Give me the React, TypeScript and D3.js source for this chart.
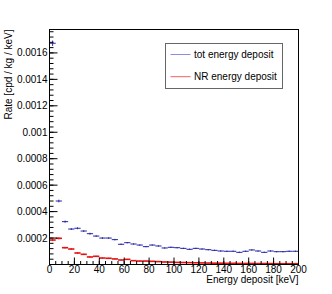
import React from "react";
import * as d3 from "d3";

const W = 332;
const H = 294;

// bin lower edges (keV), bin width 5 keV
const binLow = [0, 5, 10, 15, 20, 25, 30, 35, 40, 45, 50, 55, 60, 65, 70, 75, 80, 85, 90, 95,
  100, 105, 110, 115, 120, 125, 130, 135, 140, 145, 150, 155, 160, 165, 170, 175, 180, 185, 190, 195];
const binWidth = 5;

// rates in units of 1e-4 cpd/kg/keV
const totValues = [16.73, 4.80, 3.24, 2.68, 2.74, 2.53, 2.33, 2.15, 2.00, 2.00, 1.88, 1.53, 1.65, 1.55, 1.47, 1.35, 1.47, 1.40, 1.25, 1.30,
  1.27, 1.22, 1.15, 1.22, 1.17, 1.12, 1.07, 1.02, 1.00, 1.00, 0.92, 1.00, 1.10, 1.02, 0.92, 1.02, 0.97, 0.97, 1.00, 1.00];
const totErrors = [0.20, 0.10, 0.08, 0.07, 0.07, 0.07, 0.07, 0.06, 0.06, 0.06, 0.06, 0.05, 0.05, 0.05, 0.05, 0.05, 0.05, 0.05, 0.05, 0.05,
  0.05, 0.05, 0.05, 0.05, 0.05, 0.05, 0.05, 0.05, 0.05, 0.05, 0.05, 0.05, 0.05, 0.05, 0.05, 0.05, 0.05, 0.05, 0.05, 0.05];
const nrValues = [1.85, 1.98, 1.27, 1.17, 0.87, 0.77, 0.57, 0.62, 0.49, 0.47, 0.42, 0.34, 0.39, 0.29, 0.26, 0.26, 0.24, 0.22, 0.19, 0.18,
  0.16, 0.15, 0.14, 0.13, 0.12, 0.11, 0.10, 0.10, 0.09, 0.09, 0.08, 0.08, 0.08, 0.07, 0.07, 0.07, 0.06, 0.06, 0.06, 0.06];
const nrErrors = [0.08, 0.08, 0.06, 0.06, 0.05, 0.05, 0.04, 0.04, 0.04, 0.04, 0.03, 0.03, 0.03, 0.03, 0.03, 0.03, 0.03, 0.03, 0.02, 0.02,
  0.02, 0.02, 0.02, 0.02, 0.02, 0.02, 0.02, 0.02, 0.02, 0.02, 0.02, 0.02, 0.02, 0.02, 0.02, 0.02, 0.02, 0.02, 0.02, 0.02];

const xTicks = [0, 20, 40, 60, 80, 100, 120, 140, 160, 180, 200];
const yTicks = [0.0002, 0.0004, 0.0006, 0.0008, 0.001, 0.0012, 0.0014, 0.0016];
const yTickLabels = ["0.0002", "0.0004", "0.0006", "0.0008", "0.001", "0.0012", "0.0014", "0.0016"];
const xDomain = [0, 200];
const yDomain = [0, 0.001777];

const series = [
  { name: "tot energy deposit", values: totValues, errors: totErrors, color: "#2424a8", legendColor: "#8c8ce0", width: 1 },
  { name: "NR energy deposit", values: nrValues, errors: nrErrors, color: "#e81010", legendColor: "#f06060", width: 1.6 },
];

const FONT = "'Liberation Sans', Arial, Helvetica, sans-serif";

export default function App() {
  const left = 49.5, right = 298.5, top = 29.5, bottom = 264.5;
  const x = d3.scaleLinear().domain(xDomain).range([left, right]);
  const y = d3.scaleLinear().domain(yDomain).range([bottom, top]);

  const yMinor = d3.range(0, yDomain[1], 0.00004);
  const xMinor = d3.range(0, 200.001, 5);

  return (
    <div style={{ position: "fixed", left: 0, top: 0, width: W, height: H, background: "#fff" }}>
      <svg width={W} height={H} style={{ display: "block" }} fontFamily={FONT}>
        <rect x={0} y={0} width={W} height={H} fill="#fff" />
        {/* data */}
        {series.map((s) => (
          <g key={s.name} stroke={s.color}>
            {s.values.map((v, i) => {
              const x0 = x(binLow[i]);
              const x1 = x(binLow[i] + binWidth);
              const xc = x(binLow[i] + binWidth / 2);
              const yv = y(v * 1e-4);
              const ye0 = y((v - s.errors[i]) * 1e-4);
              const ye1 = y((v + s.errors[i]) * 1e-4);
              return (
                <g key={i}>
                  <line x1={x0} x2={x1} y1={yv} y2={yv} strokeWidth={s.width} />
                  <line x1={xc} x2={xc} y1={Math.min(ye0, bottom)} y2={ye1} strokeWidth={1} />
                </g>
              );
            })}
          </g>
        ))}
        {/* frame */}
        <rect x={left} y={top} width={right - left} height={bottom - top} fill="none" stroke="#000" strokeWidth={1} />
        {/* y ticks */}
        <g stroke="#000" strokeWidth={1}>
          {yMinor.map((t, i) => (
            <line key={"ym" + i} x1={left} x2={left + 4} y1={y(t)} y2={y(t)} />
          ))}
          {yTicks.map((t, i) => (
            <line key={"yM" + i} x1={left} x2={left + 8} y1={y(t)} y2={y(t)} />
          ))}
          {xMinor.map((t, i) => (
            <line key={"xm" + i} x1={x(t)} x2={x(t)} y1={bottom} y2={bottom - 3.5} />
          ))}
          {xTicks.map((t, i) => (
            <line key={"xM" + i} x1={x(t)} x2={x(t)} y1={bottom} y2={bottom - 7} />
          ))}
        </g>
        <g fontSize={10} fill="#000">
          {yTicks.map((t, i) => (
            <text key={"yl" + i} x={left - 2} y={y(t)} dy="0.35em" textAnchor="end">{yTickLabels[i]}</text>
          ))}
          {xTicks.map((t, i) => (
            <text key={"xl" + i} x={x(t)} y={273} textAnchor="middle">{t}</text>
          ))}
          <text x={right} y={282.5} textAnchor="end">Energy deposit [keV]</text>
          <text transform={`translate(11.5, ${top}) rotate(-90)`} textAnchor="end">Rate [cpd / kg / keV]</text>
        </g>
        {/* legend */}
        <rect x={165.5} y={43.5} width={117} height={45} fill="#fff" stroke="#666" strokeWidth={1} />
        {series.map((s, i) => {
          const ly = 54.5 + i * 22.2;
          return (
            <g key={"lg" + i}>
              <line x1={170.5} x2={190.5} y1={ly} y2={ly} stroke={s.legendColor} strokeWidth={1} />
              <text x={194} y={ly} dy="0.35em" fontSize={10} fill="#000">{s.name}</text>
            </g>
          );
        })}
      </svg>
    </div>
  );
}
